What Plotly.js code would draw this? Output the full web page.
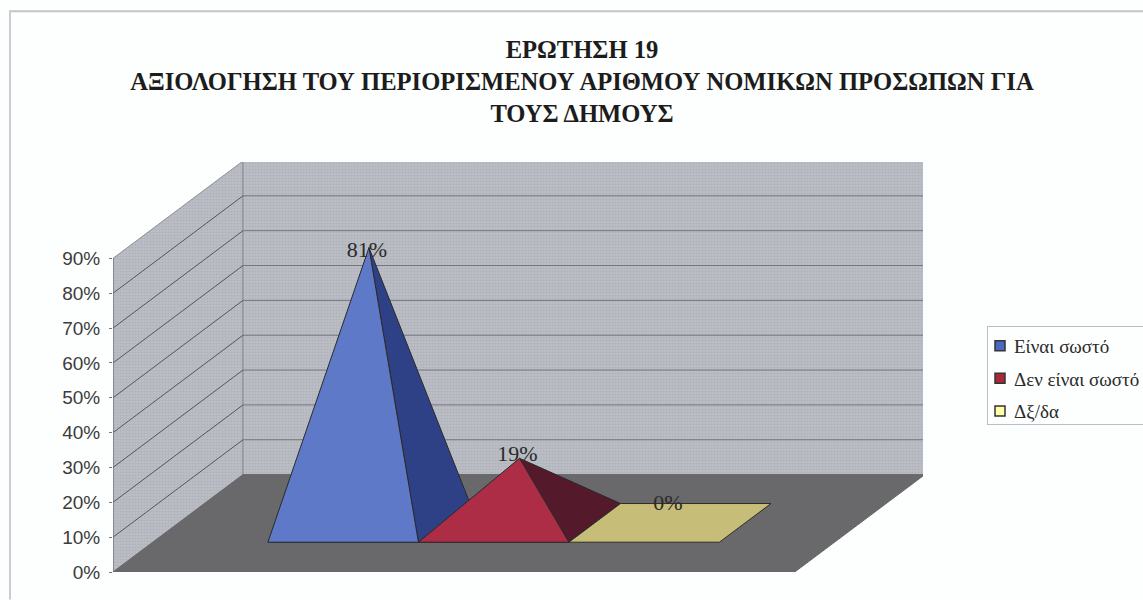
<!DOCTYPE html>
<html><head><meta charset="utf-8">
<script src="https://cdn.plot.ly/plotly-3.0.1.min.js"></script>
<style>html,body{margin:0;padding:0;background:#fdfefe;overflow:hidden}</style>
</head><body><div id="chart" style="width:1143px;height:600px"></div>
<script>
const categories = ['Είναι σωστό', 'Δεν είναι σωστό', 'Δξ/δα'];
const values = [81, 19, 0];
const labels = ['81%', '19%', '0%'];
const tickVals = [0, 10, 20, 30, 40, 50, 60, 70, 80, 90];
const tickLabels = ['0%', '10%', '20%', '30%', '40%', '50%', '60%', '70%', '80%', '90%'];
const titleText = 'ΕΡΩΤΗΣΗ 19<br>ΑΞΙΟΛΟΓΗΣΗ ΤΟΥ ΠΕΡΙΟΡΙΣΜΕΝΟΥ ΑΡΙΘΜΟΥ ΝΟΜΙΚΩΝ ΠΡΟΣΩΠΩΝ ΓΙΑ<br>ΤΟΥΣ ΔΗΜΟΥΣ';
const frontColors = ['#5f79c9', '#ad2d47', '#c6bd78'];
const sideColors = ['#2f4186', '#55192c', '#c6bd78'];
const keyColors = ['#4a68c0', '#a82838', '#ffffa8'];

// oblique projection: x in category widths, d = depth 0..1, v = percent
const DX = 0.864, DY = 27.95, FLOOR_W = 4.53, GAP = 0.765, D0 = 0.306, D1 = 0.703, H = 0.975, TOP = 90;
const P = (x, d, v) => [x + d * DX, v + d * DY];
const poly = (pts, o) => Object.assign({
  x: pts.map(p => p[0]), y: pts.map(p => p[1]), mode: 'lines', fill: 'toself',
  hoverinfo: 'skip', showlegend: false, line: {color: '#333', width: 1}
}, o);
const wallPattern = {shape: '.', size: 3, solidity: 0.4, bgcolor: '#bbbec5', fgcolor: '#afb2ba'};
const traces = [];
// walls and floor
traces.push(poly([P(0,0,0), P(0,1,0), P(0,1,TOP), P(0,0,TOP), P(0,0,0)],
  {fillpattern: wallPattern, fillcolor: '#b5b8bf', line: {color: '#8b8e96', width: 1}}));
traces.push(poly([P(0,1,0), P(FLOOR_W,1,0), P(FLOOR_W,1,TOP), P(0,1,TOP), P(0,1,0)],
  {fillpattern: wallPattern, fillcolor: '#b5b8bf', line: {color: '#8b8e96', width: 1}}));
traces.push(poly([P(0,0,0), P(FLOOR_W,0,0), P(FLOOR_W,1,0), P(0,1,0), P(0,0,0)],
  {fillcolor: '#69696b', line: {color: '#69696b', width: 1}}));
// gridlines from the y ticks
tickVals.filter(v => v > 0 && v < TOP).forEach(v => {
  const a = P(0,0,v), b = P(0,1,v), c = P(FLOOR_W,1,v);
  traces.push({x: [a[0], b[0]], y: [a[1], b[1]], mode: 'lines', hoverinfo: 'skip', showlegend: false, line: {color: '#55565c', width: 1}});
  traces.push({x: [b[0], c[0]], y: [b[1], c[1]], mode: 'lines', hoverinfo: 'skip', showlegend: false, line: {color: '#74767c', width: 1}});
});
// wall edge that carries the y axis
const ax0 = P(0,0,0), ax1 = P(0,0,TOP);
traces.push({x: [ax0[0], ax1[0]], y: [ax0[1], ax1[1]], mode: 'lines', hoverinfo: 'skip', showlegend: false, line: {color: '#6f7278', width: 1}});
// pyramids
categories.forEach((c, i) => {
  const x0 = GAP + i, x1 = x0 + 1, cx = x0 + 0.5, dm = (D0 + D1) / 2, v = values[i] * H;
  const A = P(cx, dm, v), a = P(x0, D0, 0), b = P(x1, D0, 0), e = P(x1, D1, 0), f = P(x0, D1, 0);
  traces.push(poly([a, b, e, f, a], {legendgroup: c, fillcolor: frontColors[i], line: {color: '#2e2e28', width: 1}}));
  if (values[i] > 0) {
    traces.push(poly([b, e, A, b], {legendgroup: c, fillcolor: sideColors[i], line: {color: '#2a2a2a', width: 1}}));
    traces.push(poly([a, b, A, a], {legendgroup: c, fillcolor: frontColors[i], line: {color: '#2a2a2a', width: 1}}));
  }
  traces.push({x: [null], y: [null], name: c, legendgroup: c, mode: 'markers', hoverinfo: 'skip',
    marker: {symbol: 'square', size: 10, color: keyColors[i], line: {color: '#333', width: 1.5}}});
});
// value labels
const lift = [-1, 0.8, 5.2];
traces.push({
  x: categories.map((c, i) => P(GAP + i + 0.5, (D0 + D1) / 2, 0)[0] - 0.014),
  y: categories.map((c, i) => P(GAP + i + 0.5, (D0 + D1) / 2, values[i] * H + lift[i])[1]),
  text: labels, mode: 'text', textposition: 'middle center', hoverinfo: 'skip', showlegend: false,
  textfont: {family: 'Liberation Serif, serif', size: 22, color: '#2a2a2a'}
});

const L = 113, R = 923, T = 162, B = 572.5, W = 1143, HT = 600;
const px = x => (x - L) / (R - L), py = y => (B - y) / (B - T);
const layout = {
  width: W, height: HT, showlegend: true,
  paper_bgcolor: '#fdfefe', plot_bgcolor: 'rgba(0,0,0,0)',
  margin: {l: L, r: W - R, t: T, b: HT - B, pad: 0, autoexpand: false},
  title: {text: titleText, x: 582 / W, xanchor: 'center', y: 1 - 58 / HT, yanchor: 'top',
    font: {family: 'Liberation Serif, serif', size: 24.6, color: '#1c1c1c', weight: 700}},
  xaxis: {visible: false, range: [0, (R - L) / 150.5], fixedrange: true},
  yaxis: {range: [0, (B - T) / 3.489], tickvals: tickVals, ticktext: tickLabels, showgrid: false, zeroline: false,
    ticks: 'outside', ticklen: 3, tickcolor: '#777', ticklabelstandoff: 5, fixedrange: true,
    tickfont: {family: 'Liberation Sans, Arial, sans-serif', size: 19, color: '#3c3c3c'}},
  legend: {x: px(973), y: py(326), xanchor: 'left', yanchor: 'top', bgcolor: '#fdfefe', bordercolor: '#b9bdc4', borderwidth: 1,
    font: {family: 'Liberation Serif, serif', size: 19, color: '#2a2a2a'}, tracegroupgap: 5, itemclick: false, itemdoubleclick: false},
  shapes: [
    {type: 'line', xref: 'paper', yref: 'paper', x0: px(9), x1: px(1143), y0: py(11), y1: py(11), line: {color: '#c2c5c8', width: 2}},
    {type: 'line', xref: 'paper', yref: 'paper', x0: px(10), x1: px(10), y0: py(11), y1: py(600), line: {color: '#c8ccd4', width: 2}}
  ]
};
Plotly.newPlot('chart', traces, layout, {displayModeBar: false}).then(gd => {
  // tighten the legend key to its text, as in the reference
  const leg = gd.querySelector('.legend');
  const bg = leg.querySelector('rect.bg');
  const bx = parseFloat(bg.getAttribute('x') || 0), bw = parseFloat(bg.getAttribute('width')), bh = parseFloat(bg.getAttribute('height'));
  bg.setAttribute('x', bx + 14); bg.setAttribute('width', bw - 14); bg.setAttribute('height', bh - 7);
  leg.querySelectorAll('.legendpoints').forEach(g => g.setAttribute('transform', 'translate(6,0)'));
});
</script></body></html>
